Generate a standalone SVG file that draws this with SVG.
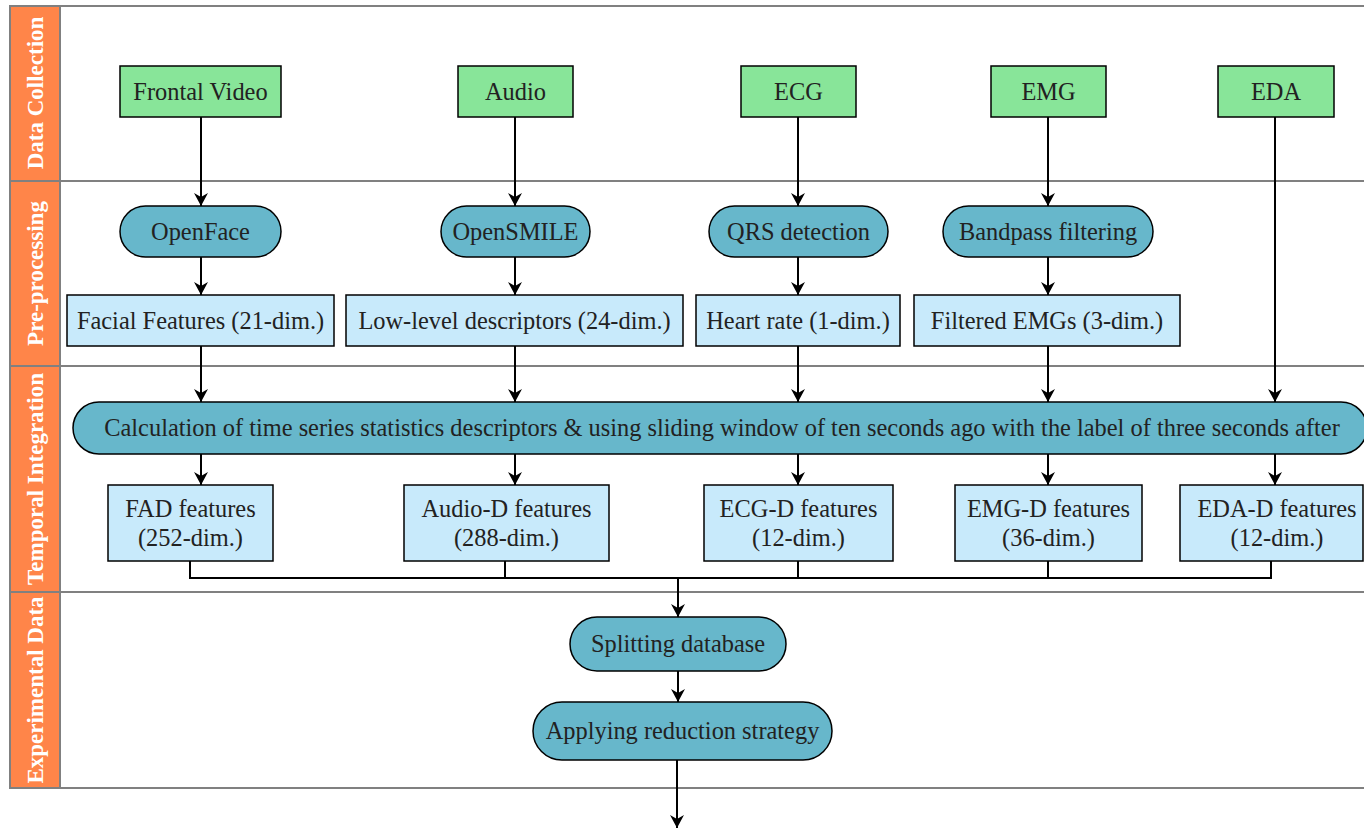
<svg xmlns="http://www.w3.org/2000/svg" width="1364" height="829" viewBox="0 0 1364 829">
  <style>
    .lane { fill: #ffffff; stroke: #808080; stroke-width: 2; }
    .band { fill: #FF8549; stroke: #808080; stroke-width: 2; }
    .band-label { font-family: "Liberation Serif", serif; font-weight: bold; font-size: 23px; fill: #ffffff; text-anchor: middle; }
    .src { fill: #88E599; stroke: #000000; stroke-width: 1.5; }
    .proc { fill: #67B7CB; stroke: #000000; stroke-width: 1.5; }
    .feat { fill: #C8EAFB; stroke: #000000; stroke-width: 1.5; }
    .label { font-family: "Liberation Serif", serif; font-size: 24.4px; fill: #222222; text-anchor: middle; }
    .edge { fill: none; stroke: #000000; stroke-width: 2; }
    .arrow { fill: none; stroke: #000000; stroke-width: 2; marker-end: url(#head); }
  </style>
  <defs>
    <marker id="head" markerUnits="userSpaceOnUse" markerWidth="16" markerHeight="16" viewBox="-14 -8 16 16" refX="0" refY="0" orient="auto">
      <path d="M 0 0 L -13 -7 L -9 0 L -13 7 Z" fill="#000000"/>
    </marker>
  </defs>

  <!-- swimlanes -->
  <g id="lanes">
    <rect class="lane" x="10" y="6" width="1360" height="175"/>
    <rect class="lane" x="10" y="181" width="1360" height="185"/>
    <rect class="lane" x="10" y="366" width="1360" height="226"/>
    <rect class="lane" x="10" y="592" width="1360" height="196"/>
    <rect class="band" x="10" y="6" width="50" height="175"/>
    <rect class="band" x="10" y="181" width="50" height="185"/>
    <rect class="band" x="10" y="366" width="50" height="226"/>
    <rect class="band" x="10" y="592" width="50" height="196"/>
    <text class="band-label" transform="translate(43,93) rotate(-90)">Data Collection</text>
    <text class="band-label" transform="translate(43,273.5) rotate(-90)">Pre-processing</text>
    <text class="band-label" transform="translate(43,479) rotate(-90)">Temporal Integration</text>
    <text class="band-label" transform="translate(43,690) rotate(-90)">Experimental Data</text>
  </g>

  <!-- connectors -->
  <g id="connectors">
    <line class="arrow" x1="201" y1="117" x2="201" y2="206"/>
    <line class="arrow" x1="515" y1="117" x2="515" y2="206"/>
    <line class="arrow" x1="798" y1="117" x2="798" y2="206"/>
    <line class="arrow" x1="1048" y1="117" x2="1048" y2="206"/>
    <line class="arrow" x1="1275" y1="117" x2="1275" y2="402"/>

    <line class="arrow" x1="201" y1="257" x2="201" y2="295"/>
    <line class="arrow" x1="515" y1="257" x2="515" y2="295"/>
    <line class="arrow" x1="798" y1="257" x2="798" y2="295"/>
    <line class="arrow" x1="1048" y1="257" x2="1048" y2="295"/>

    <line class="arrow" x1="201" y1="346" x2="201" y2="402"/>
    <line class="arrow" x1="515" y1="346" x2="515" y2="402"/>
    <line class="arrow" x1="798" y1="346" x2="798" y2="402"/>
    <line class="arrow" x1="1048" y1="346" x2="1048" y2="402"/>

    <line class="arrow" x1="201" y1="454" x2="201" y2="485"/>
    <line class="arrow" x1="515" y1="454" x2="515" y2="485"/>
    <line class="arrow" x1="798" y1="454" x2="798" y2="485"/>
    <line class="arrow" x1="1048" y1="454" x2="1048" y2="485"/>
    <line class="arrow" x1="1275" y1="454" x2="1275" y2="485"/>

    <!-- feature merge bus -->
    <polyline class="edge" points="190,561 190,578 1271,578 1271,561"/>
    <line class="edge" x1="505" y1="561" x2="505" y2="578"/>
    <line class="edge" x1="798" y1="561" x2="798" y2="578"/>
    <line class="edge" x1="1048" y1="561" x2="1048" y2="578"/>
    <line class="arrow" x1="678" y1="578" x2="678" y2="617"/>

    <line class="arrow" x1="678" y1="671" x2="678" y2="702"/>
    <line class="arrow" x1="677" y1="760" x2="677" y2="828"/>
  </g>

  <!-- sources -->
  <g id="frontal-video">
    <rect class="src" x="120" y="66" width="161" height="51"/>
    <text class="label" x="200.5" y="99.5">Frontal Video</text>
  </g>
  <g id="audio">
    <rect class="src" x="458" y="66" width="115" height="51"/>
    <text class="label" x="515.5" y="99.5">Audio</text>
  </g>
  <g id="ecg">
    <rect class="src" x="741" y="66" width="115" height="51"/>
    <text class="label" x="798.5" y="99.5">ECG</text>
  </g>
  <g id="emg">
    <rect class="src" x="991" y="66" width="115" height="51"/>
    <text class="label" x="1048.5" y="99.5">EMG</text>
  </g>
  <g id="eda">
    <rect class="src" x="1218" y="66" width="116" height="51"/>
    <text class="label" x="1276" y="99.5">EDA</text>
  </g>

  <!-- pre-processing -->
  <g id="openface">
    <rect class="proc" x="120" y="206" width="161" height="51" rx="25.5"/>
    <text class="label" x="200.5" y="239.5">OpenFace</text>
  </g>
  <g id="opensmile">
    <rect class="proc" x="441" y="206" width="149" height="51" rx="25.5"/>
    <text class="label" x="515.5" y="239.5">OpenSMILE</text>
  </g>
  <g id="qrs">
    <rect class="proc" x="709" y="206" width="179" height="51" rx="25.5"/>
    <text class="label" x="798.5" y="239.5">QRS detection</text>
  </g>
  <g id="bandpass">
    <rect class="proc" x="943" y="206" width="210" height="51" rx="25.5"/>
    <text class="label" x="1048" y="239.5">Bandpass filtering</text>
  </g>

  <g id="facial-features">
    <rect class="feat" x="67" y="295" width="267" height="51"/>
    <text class="label" x="200.5" y="328.5">Facial Features (21-dim.)</text>
  </g>
  <g id="lld">
    <rect class="feat" x="346" y="295" width="337" height="51"/>
    <text class="label" x="514.5" y="328.5">Low-level descriptors (24-dim.)</text>
  </g>
  <g id="heart-rate">
    <rect class="feat" x="696" y="295" width="204" height="51"/>
    <text class="label" x="798" y="328.5">Heart rate (1-dim.)</text>
  </g>
  <g id="filtered-emg">
    <rect class="feat" x="914" y="295" width="266" height="51"/>
    <text class="label" x="1047" y="328.5">Filtered EMGs (3-dim.)</text>
  </g>

  <!-- temporal integration -->
  <g id="statistics">
    <rect class="proc" x="73" y="402" width="1294" height="52" rx="26"/>
    <text class="label" x="722" y="436">Calculation of time series statistics descriptors &amp; using sliding window of ten seconds ago with the label of three seconds after</text>
  </g>

  <g id="fad">
    <rect class="feat" x="108" y="485" width="165" height="76"/>
    <text class="label" x="190.5" y="517">FAD features</text>
    <text class="label" x="190.5" y="546">(252-dim.)</text>
  </g>
  <g id="audio-d">
    <rect class="feat" x="404" y="485" width="205" height="76"/>
    <text class="label" x="506.5" y="517">Audio-D features</text>
    <text class="label" x="506.5" y="546">(288-dim.)</text>
  </g>
  <g id="ecg-d">
    <rect class="feat" x="704" y="485" width="189" height="76"/>
    <text class="label" x="798.5" y="517">ECG-D features</text>
    <text class="label" x="798.5" y="546">(12-dim.)</text>
  </g>
  <g id="emg-d">
    <rect class="feat" x="955" y="485" width="187" height="76"/>
    <text class="label" x="1048.5" y="517">EMG-D features</text>
    <text class="label" x="1048.5" y="546">(36-dim.)</text>
  </g>
  <g id="eda-d">
    <rect class="feat" x="1180" y="485" width="183" height="76"/>
    <text class="label" x="1277" y="517">EDA-D features</text>
    <text class="label" x="1277" y="546">(12-dim.)</text>
  </g>

  <!-- experimental data -->
  <g id="splitting">
    <rect class="proc" x="570" y="617" width="216" height="54" rx="27"/>
    <text class="label" x="678" y="652">Splitting database</text>
  </g>
  <g id="reduction">
    <rect class="proc" x="533" y="702" width="299" height="58" rx="29"/>
    <text class="label" x="682.5" y="739">Applying reduction strategy</text>
  </g>
</svg>
